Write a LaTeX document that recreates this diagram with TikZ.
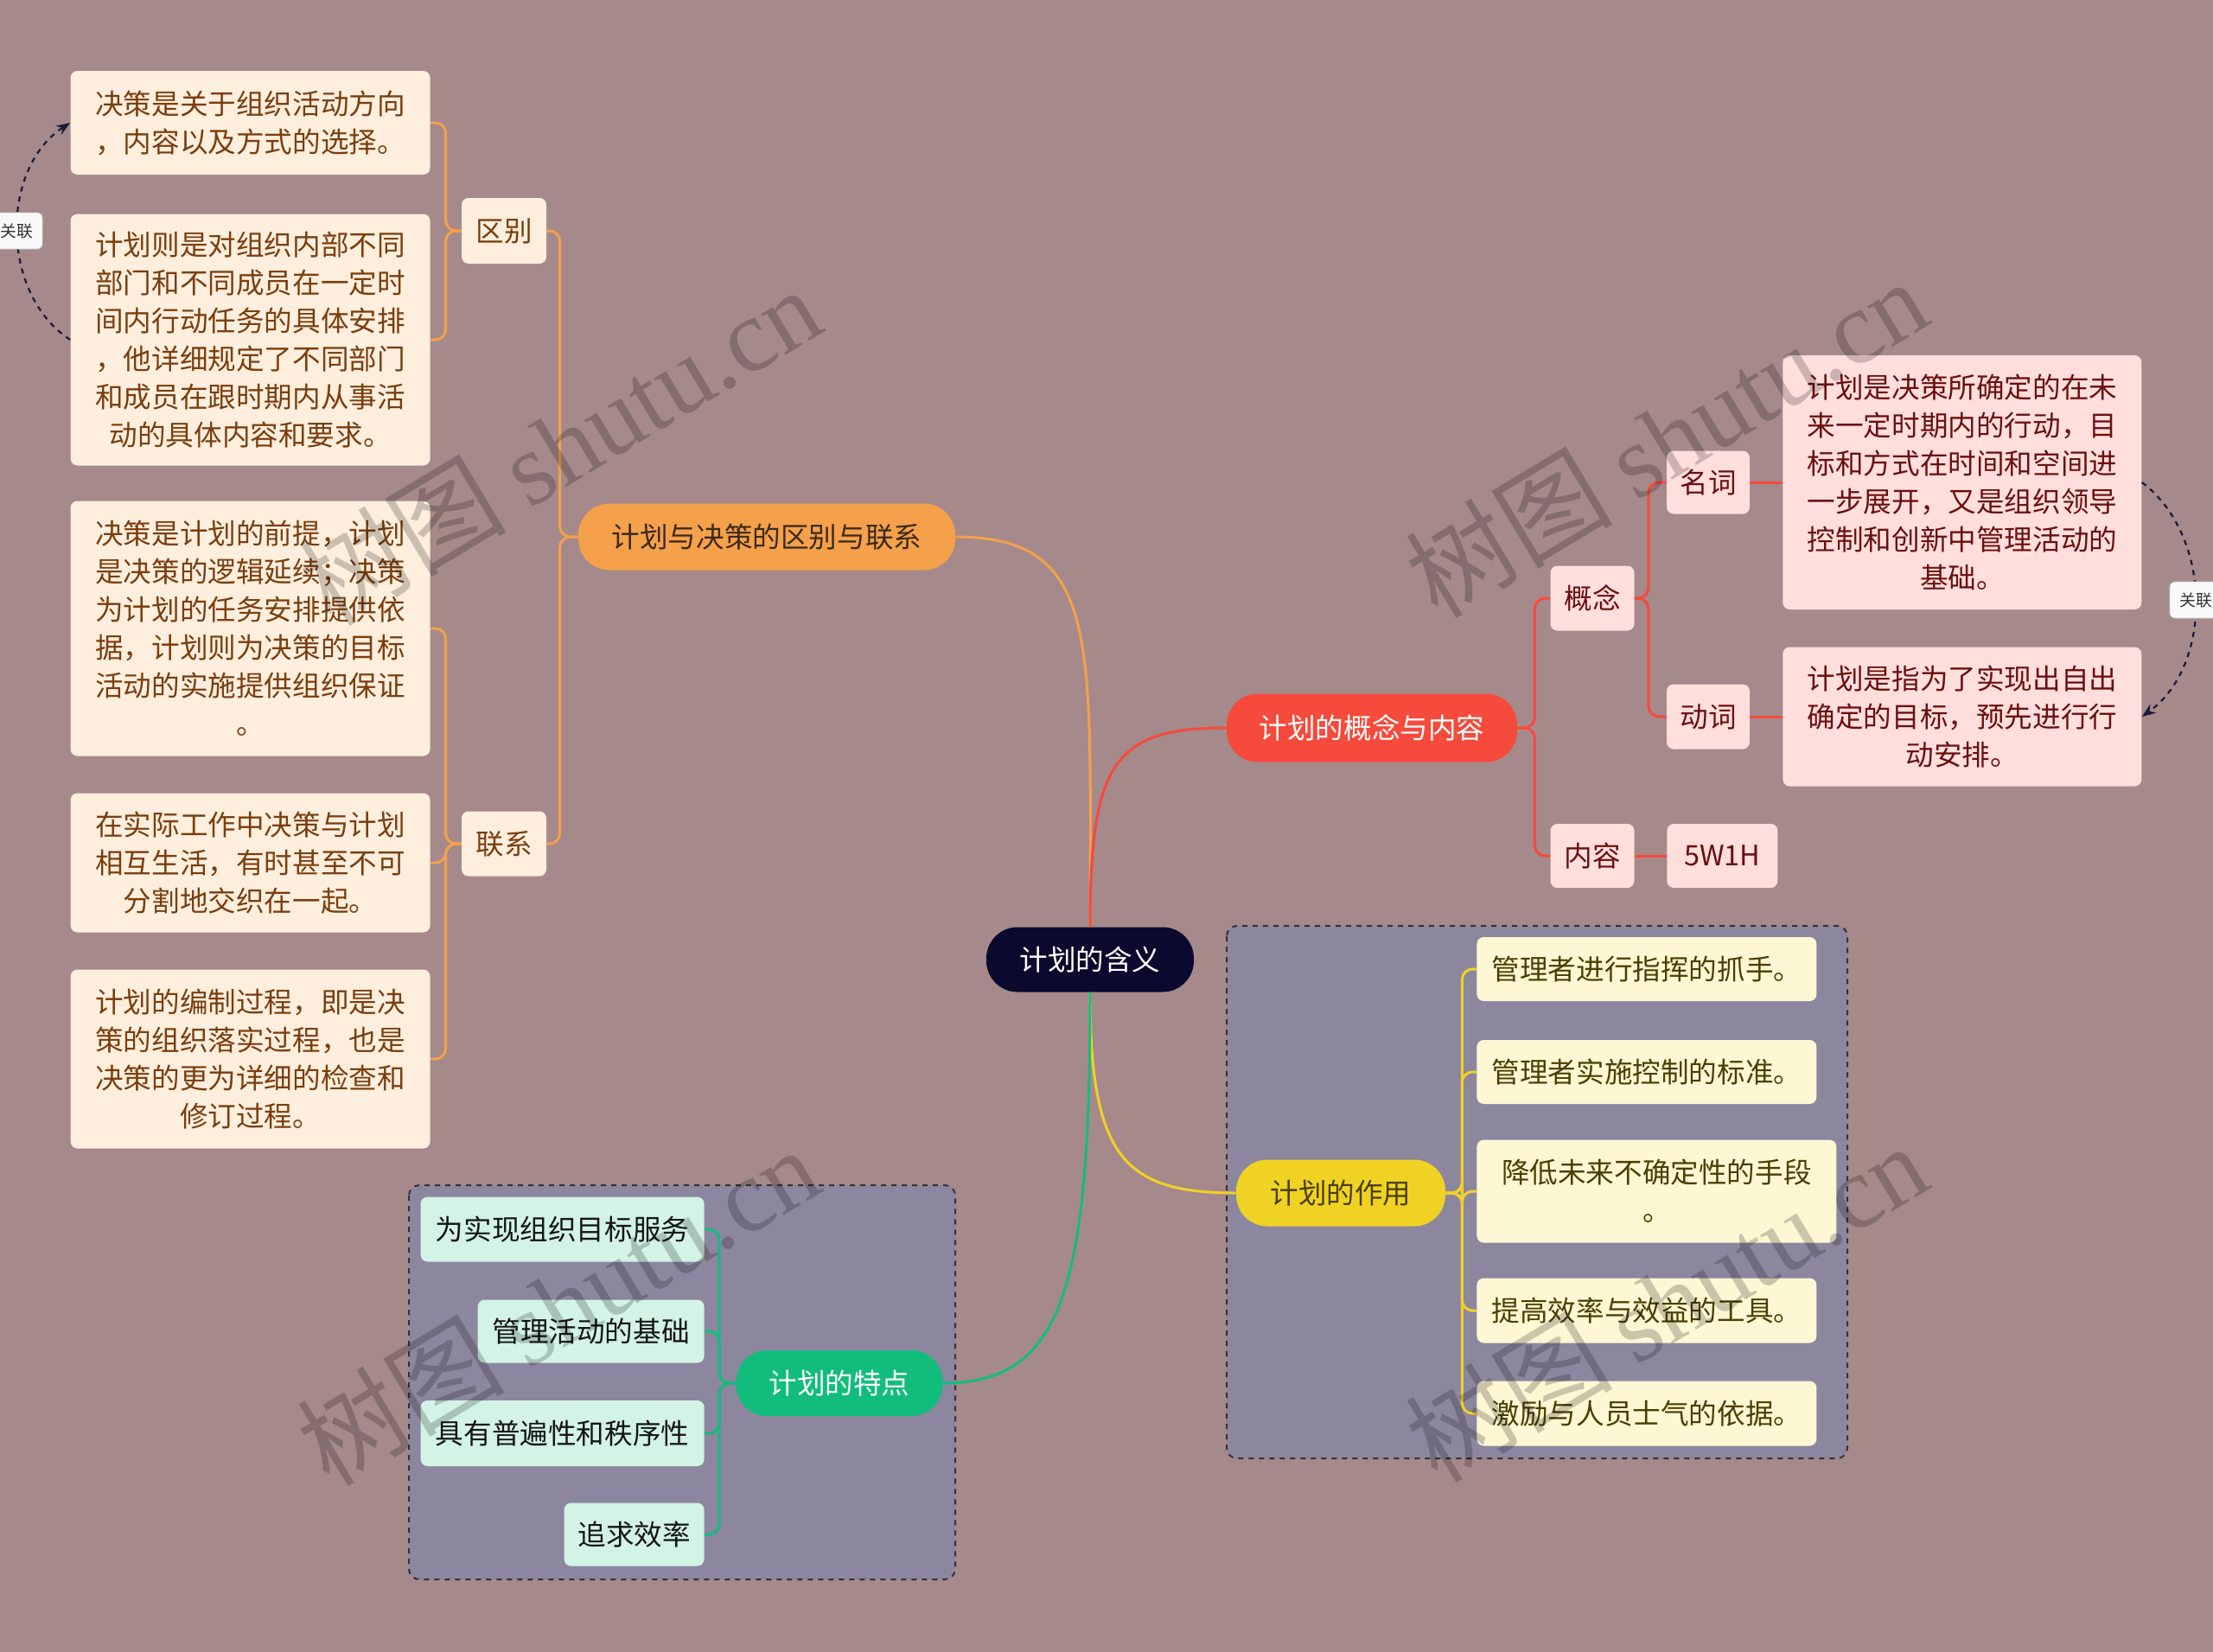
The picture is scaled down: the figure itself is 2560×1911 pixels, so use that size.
\documentclass[tikz,border=0pt]{standalone}
\usepackage{fontspec}
\setmainfont{Noto Sans CJK SC}
\newfontfamily\wmserif{Liberation Serif}
\usetikzlibrary{arrows.meta}
\definecolor{bgc}{HTML}{A6898B}
\definecolor{grpc}{HTML}{8D869F}
\definecolor{rootc}{HTML}{0B0A2E}
\definecolor{orc}{HTML}{F5A04A}
\definecolor{redc}{HTML}{F54A3C}
\definecolor{yelc}{HTML}{F0D224}
\definecolor{grnc}{HTML}{12BD7C}
\definecolor{oleaf}{HTML}{FDEEDD}
\definecolor{otext}{HTML}{7A3E0E}
\definecolor{rleaf}{HTML}{FFDEDC}
\definecolor{rtext}{HTML}{6A1010}
\definecolor{yleaf}{HTML}{FDF7D4}
\definecolor{ytext}{HTML}{4A3F00}
\definecolor{gleaf}{HTML}{D2F3E6}
\definecolor{gtext}{HTML}{151515}
\definecolor{relc}{HTML}{1A1A3A}
\definecolor{b1text}{HTML}{3A2A1A}
\newcommand\mainsz{\fontsize{16.3}{22}\selectfont}
\newcommand\smallsz{\fontsize{9.4}{11}\selectfont}
\tikzset{
  pill/.style={rounded corners=18pt, inner sep=0pt, font=\mainsz, align=center},
  leafbox/.style={rounded corners=4pt, inner sep=0pt, font=\mainsz, align=center},
  oleafs/.style={leafbox, fill=oleaf, text=otext},
  rleafs/.style={leafbox, fill=rleaf, text=rtext},
  yleafs/.style={leafbox, fill=yleaf, text=ytext},
  gleafs/.style={leafbox, fill=gleaf, text=gtext},
  grpbox/.style={draw=black!80, fill=grpc, dashed, line width=1pt, rounded corners=6pt},
  oline/.style={draw=orc, line width=1.5pt, rounded corners=6pt},
  rline/.style={draw=redc, line width=1.5pt, rounded corners=6pt},
  yline/.style={draw=yelc, line width=1.5pt, rounded corners=6pt},
  gline/.style={draw=grnc, line width=1.5pt, rounded corners=6pt},
  relline/.style={draw=relc, dashed, line width=1.1pt, -{Stealth[length=8pt,width=6pt]}},
  rellabel/.style={fill=white!95!gray, draw=gray!40, rounded corners=3pt, font=\smallsz, text=black!80, minimum width=30pt, minimum height=21pt, inner sep=1pt},
  wmark/.style={text=black, opacity=0.2, rotate=31, font=\fontsize{60}{60}\selectfont}
}
\begin{document}
\begin{tikzpicture}[x=0.5pt,y=-0.5pt]
\fill[bgc] (0,0) rectangle (2560,1911);
\useasboundingbox (0,0) rectangle (2560,1911);

% group boxes
\draw[grpbox] (1419,1071) rectangle (2137,1687);
\draw[grpbox] (473,1371) rectangle (1105,1827);

% root and main branches
\node[pill, fill=rootc, text=white, minimum width=120pt, minimum height=37.5pt] (root) at (1261,1110) {计划的含义};
\node[pill, fill=orc, text=b1text, minimum width=218pt, minimum height=38.5pt] (b1) at (887,621) {计划与决策的区别与联系};
\node[pill, fill=redc, text=white, minimum width=168pt, minimum height=39.5pt] (b2) at (1587,842) {计划的概念与内容};
\node[pill, fill=yelc, text=ytext, minimum width=121pt, minimum height=38.5pt] (b3) at (1551,1380) {计划的作用};
\node[pill, fill=grnc, text=white, minimum width=119.5pt, minimum height=38pt] (b4) at (971,1600) {计划的特点};

% orange sub nodes
\node[oleafs, minimum width=49pt, minimum height=38pt] (qb) at (583,267) {区别};
\node[oleafs, minimum width=49pt, minimum height=37.5pt] (lx) at (583,976) {联系};
\node[oleafs, anchor=east, minimum width=208pt, minimum height=60pt] (o1) at (498,142) {决策是关于组织活动方向\\，内容以及方式的选择。};
\node[oleafs, anchor=east, minimum width=208pt, minimum height=145.5pt] (o2) at (498,393) {计划则是对组织内部不同\\部门和不同成员在一定时\\间内行动任务的具体安排\\，他详细规定了不同部门\\和成员在跟时期内从事活\\动的具体内容和要求。};
\node[oleafs, anchor=east, minimum width=208pt, minimum height=147.5pt] (o3) at (498,727) {决策是计划的前提，计划\\是决策的逻辑延续；决策\\为计划的任务安排提供依\\据，计划则为决策的目标\\活动的实施提供组织保证\\。};
\node[oleafs, anchor=east, minimum width=208pt, minimum height=80.5pt] (o4) at (498,998) {在实际工作中决策与计划\\相互生活，有时甚至不可\\分割地交织在一起。};
\node[oleafs, anchor=east, minimum width=208pt, minimum height=103.5pt] (o5) at (498,1225) {计划的编制过程，即是决\\策的组织落实过程，也是\\决策的更为详细的检查和\\修订过程。};

% red sub nodes
\node[rleafs, minimum width=48.5pt, minimum height=37.5pt] (gn) at (1842,692) {概念};
\node[rleafs, minimum width=48.5pt, minimum height=37pt] (nr) at (1842,990) {内容};
\node[rleafs, minimum width=48pt, minimum height=36.5pt] (mc) at (1976,558) {名词};
\node[rleafs, minimum width=48pt, minimum height=37.5pt] (dc) at (1976,829) {动词};
\node[rleafs, anchor=west, minimum width=64pt, minimum height=37pt] (w5) at (1928,990) {5W1H};
\node[rleafs, anchor=west, minimum width=207.5pt, minimum height=147pt] (r1) at (2062,558) {计划是决策所确定的在未\\来一定时期内的行动，目\\标和方式在时间和空间进\\一步展开，又是组织领导\\控制和创新中管理活动的\\基础。};
\node[rleafs, anchor=west, minimum width=207.5pt, minimum height=80.5pt] (r2) at (2062,829) {计划是指为了实现出自出\\确定的目标，预先进行行\\动安排。};

% yellow leaves
\node[yleafs, anchor=west, minimum width=196.5pt, minimum height=37pt] (y1) at (1708,1121) {管理者进行指挥的抓手。};
\node[yleafs, anchor=west, minimum width=196.5pt, minimum height=37pt] (y2) at (1708,1240) {管理者实施控制的标准。};
\node[yleafs, anchor=west, minimum width=208pt, minimum height=59.5pt] (y3) at (1708,1378) {降低未来不确定性的手段\\。};
\node[yleafs, anchor=west, minimum width=196.5pt, minimum height=37.5pt] (y4) at (1708,1516) {提高效率与效益的工具。};
\node[yleafs, anchor=west, minimum width=196.5pt, minimum height=37.5pt] (y5) at (1708,1635) {激励与人员士气的依据。};

% green leaves
\node[gleafs, anchor=east, minimum width=164pt, minimum height=37.5pt] (g1) at (815,1422) {为实现组织目标服务};
\node[gleafs, anchor=east, minimum width=131pt, minimum height=36.5pt] (g2) at (815,1540) {管理活动的基础};
\node[gleafs, anchor=east, minimum width=164pt, minimum height=38pt] (g3) at (815,1658) {具有普遍性和秩序性};
\node[gleafs, anchor=east, minimum width=81pt, minimum height=36.5pt] (g4) at (815,1775) {追求效率};

% main connectors
\draw[oline] (root.north) .. controls +(0,-330) and +(170,0) .. (b1.east);
\draw[rline] (root.north) .. controls +(0,-190) and +(-130,0) .. (b2.west);
\draw[yline] (root.south) .. controls +(0,190) and +(-130,0) .. (b3.west);
\draw[gline] (root.south) .. controls +(0,340) and +(140,0) .. (b4.east);

% orange sub connectors
\draw[oline] (b1.west) -- ++(-21,0) |- (qb.east);
\draw[oline] (b1.west) -- ++(-21,0) |- (lx.east);
\draw[oline] (qb.west) -- ++(-18,0) |- (o1.east);
\draw[oline] (qb.west) -- ++(-18,0) |- (o2.east);
\draw[oline] (lx.west) -- ++(-18,0) |- (o3.east);
\draw[oline] (lx.west) -- ++(-18,0) |- (o4.east);
\draw[oline] (lx.west) -- ++(-18,0) |- (o5.east);

% red sub connectors
\draw[rline] (b2.east) -- ++(20,0) |- (gn.west);
\draw[rline] (b2.east) -- ++(20,0) |- (nr.west);
\draw[rline] (gn.east) -- ++(16,0) |- (mc.west);
\draw[rline] (gn.east) -- ++(16,0) |- (dc.west);
\draw[rline] (mc.east) -- (r1.west |- mc.east);
\draw[rline] (dc.east) -- (r2.west |- dc.east);
\draw[rline] (nr.east) -- (w5.west);

% yellow connectors
\foreach \n in {y1,y2,y3,y4,y5}{
  \draw[yline] (b3.east) -- ++(19,0) |- (\n.west);
}
% green connectors
\foreach \n in {g1,g2,g3,g4}{
  \draw[gline] (b4.west) -- ++(-19,0) |- (\n.east);
}

% relations
\draw[relline] (o2.west) .. controls (0,340) and (0,195) .. (o1.west);
\draw[relline] (r1.east) .. controls (2560,620) and (2560,770) .. (r2.east);
\node[rellabel] (rl1) at (19,267) {关联};
\node[rellabel] (rl2) at (2540,694) {关联};

% watermarks
\node[wmark] (wm1) at (647,515) {树图 {\wmserif shutu.cn}};
\node[wmark] (wm2) at (1927,506) {树图 {\wmserif shutu.cn}};
\node[wmark] (wm3) at (645,1510) {树图 {\wmserif shutu.cn}};
\node[wmark] (wm4) at (1927,1506) {树图 {\wmserif shutu.cn}};
\end{tikzpicture}
\end{document}
